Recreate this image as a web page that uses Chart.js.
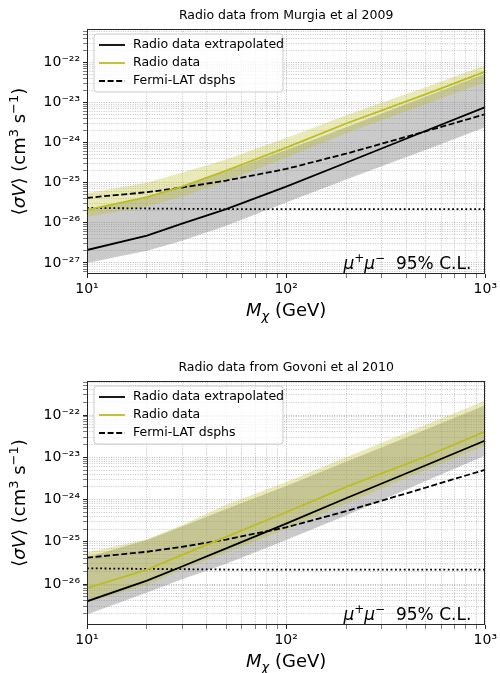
<!DOCTYPE html>
<html><head><meta charset="utf-8">
<script src="https://cdn.jsdelivr.net/npm/chart.js@4.4.1/dist/chart.umd.min.js"></script>
<style>
html,body{margin:0;padding:0;background:#fff;}
#wrap{position:relative;width:500px;height:673px;overflow:hidden;}
canvas{position:absolute;left:0;}
</style></head><body>
<div id="wrap">
<canvas id="c1" width="500" height="337" style="top:0px"></canvas>
<canvas id="c2" width="500" height="336" style="top:337px"></canvas>
</div>
<script>
// ---------- data ----------
const masses = [10, 20, 30, 50, 100, 200, 500, 1000];           // M_chi (GeV)
const xTickValues = [10, 100, 1000];

// Fermi-LAT dSphs limit (same in both panels)
const fermiLAT = [4.2e-26, 5.8e-26, 7.6e-26, 1.13e-25, 2.2e-25, 5.3e-25, 1.9e-24, 5.1e-24];
// thermal relic cross section (dotted)
const thermalRelic = [2.35e-26, 2.28e-26, 2.24e-26, 2.2e-26, 2.2e-26, 2.2e-26, 2.2e-26, 2.2e-26];

// Top panel: Murgia et al 2009
const murgiaExtrap   = [2.1e-27, 4.8e-27, 9.5e-27, 2.2e-26, 8.0e-26, 3.15e-25, 1.95e-24, 7.7e-24];
const murgiaExtrapUp = [2.05e-26, 4.5e-26, 8.3e-26, 1.9e-25, 6.5e-25, 2.4e-24, 1.4e-23, 5.2e-23];
const murgiaExtrapLo = [1.0e-27, 2.0e-27, 3.6e-27, 8.5e-27, 3.2e-26, 1.2e-25, 6.5e-25, 2.4e-24];
const murgiaRadio    = [2.1e-26, 4.4e-26, 8.0e-26, 2.0e-25, 7.5e-25, 3.0e-24, 1.6e-23, 5.9e-23];
const murgiaRadioUp  = [5.5e-26, 1.0e-25, 1.8e-25, 3.8e-25, 1.3e-24, 4.8e-24, 2.4e-23, 8.5e-23];
const murgiaRadioLo  = [1.4e-26, 2.6e-26, 4.5e-26, 1.1e-25, 4.2e-25, 1.7e-24, 9.0e-24, 3.2e-23];

// Bottom panel: Govoni et al 2010
const govoniExtrap   = [3.9e-27, 1.2e-26, 2.6e-26, 7.0e-26, 2.7e-25, 1.07e-24, 6.4e-24, 2.5e-23];
const govoniExtrapUp = [4.3e-26, 1.1e-25, 2.3e-25, 6.0e-25, 2.1e-24, 7.8e-24, 4.5e-23, 1.7e-22];
const govoniExtrapLo = [1.9e-27, 6.3e-27, 1.3e-26, 3.0e-26, 1.1e-25, 4.2e-25, 2.7e-24, 1.1e-23];
const govoniRadio    = [8.0e-27, 2.2e-26, 4.9e-26, 1.3e-25, 5.0e-25, 2.0e-24, 1.03e-23, 4.1e-23];
const govoniRadioUp  = [5.6e-26, 1.15e-25, 2.5e-25, 7.5e-25, 2.6e-24, 1.0e-23, 5.8e-23, 2.2e-22];
const govoniRadioLo  = [3.7e-27, 9.5e-27, 2.2e-26, 5.5e-26, 2.0e-25, 8.0e-25, 5.0e-24, 1.9e-23];

const seriesLabels = ['Radio data extrapolated', 'Radio data', 'Fermi-LAT dsphs'];
const panelTitles = ['Radio data from Murgia et al 2009', 'Radio data from Govoni et al 2010'];
const annotationText = ['95% C.L.'];

// ---------- helpers ----------
const FF = '"DejaVu Sans", "Liberation Sans", sans-serif';
Chart.defaults.font.family = FF;
const SUP = {'0':'⁰','1':'¹','2':'²','3':'³','4':'⁴','5':'⁵','6':'⁶','7':'⁷','8':'⁸','9':'⁹','-':'⁻'};
function isPow10(v){ const e = Math.log10(v); return Math.abs(e - Math.round(e)) < 1e-6; }
function powLabel(v){ const e = Math.round(Math.log10(v)); return '10' + String(e).split('').map(c => SUP[c]).join(''); }
function buildLogTicks(scale){
  const min = scale.min, max = scale.max, t = [];
  for (let e = Math.floor(Math.log10(min)); e <= Math.ceil(Math.log10(max)); e++) {
    for (let m = 1; m <= 9; m++) {
      const v = m * Math.pow(10, e);
      if (v >= min * 0.99999 && v <= max * 1.00001) t.push({value: v, major: m === 1});
    }
  }
  scale.ticks = t;
}
const pts = (arr) => masses.map((m, i) => ({x: m, y: arr[i]}));

function font(s){ return (s.style || 'normal') + ' ' + s.size + 'px ' + FF; }
function drawRich(ctx, segs, x, y, align){
  let w = 0;
  segs.forEach(s => { ctx.font = font(s); s.w = ctx.measureText(s.t).width; w += s.w; });
  let cx = align === 'center' ? x - w / 2 : (align === 'right' ? x - w : x);
  ctx.textAlign = 'left'; ctx.textBaseline = 'alphabetic';
  segs.forEach(s => { ctx.font = font(s); ctx.fillText(s.t, cx, y + (s.dy || 0)); cx += s.w; });
}

const decor = {
  id: 'decor',
  afterDraw(chart){
    const ctx = chart.ctx, a = chart.chartArea;
    ctx.save();
    // frame
    ctx.setLineDash([]);
    ctx.strokeStyle = '#262626'; ctx.lineWidth = 1;
    ctx.strokeRect(Math.round(a.left) + 0.5, Math.round(a.top) + 0.5, Math.round(a.right - a.left) - 1, Math.round(a.bottom - a.top) - 1);
    // legend
    const lx = a.left + 7, ly = a.top + 5, lw = 189, lh = 58, r = 3;
    ctx.beginPath();
    ctx.moveTo(lx + r, ly); ctx.lineTo(lx + lw - r, ly); ctx.arcTo(lx + lw, ly, lx + lw, ly + r, r);
    ctx.lineTo(lx + lw, ly + lh - r); ctx.arcTo(lx + lw, ly + lh, lx + lw - r, ly + lh, r);
    ctx.lineTo(lx + r, ly + lh); ctx.arcTo(lx, ly + lh, lx, ly + lh - r, r);
    ctx.lineTo(lx, ly + r); ctx.arcTo(lx, ly, lx + r, ly, r); ctx.closePath();
    ctx.fillStyle = 'rgba(255,255,255,0.8)'; ctx.fill();
    ctx.strokeStyle = '#cccccc'; ctx.lineWidth = 1; ctx.stroke();
    [7, 6, 5].forEach((di, k) => {
      const ds = chart.data.datasets[di];
      const y = Math.round(a.top + 16 + 18 * k);
      ctx.strokeStyle = ds.borderColor; ctx.lineWidth = ds.borderWidth; ctx.setLineDash(ds.borderDash || []);
      ctx.beginPath(); ctx.moveTo(lx + 5, y); ctx.lineTo(lx + 31, y); ctx.stroke();
      ctx.setLineDash([]);
      ctx.fillStyle = '#000'; ctx.font = '12.5px ' + FF; ctx.textAlign = 'left'; ctx.textBaseline = 'middle';
      ctx.fillText(ds.label, lx + 39, y);
    });
    ctx.fillStyle = '#000';
    // annotation
    drawRich(ctx, [
      {t: 'μ', size: 17, style: 'italic'}, {t: '+', size: 12, dy: -7},
      {t: 'μ', size: 17, style: 'italic'}, {t: '−', size: 12, dy: -7},
      {t: '  ' + annotationText[0], size: 17}
    ], a.right - 14, a.bottom - 5, 'right');
    // x title
    drawRich(ctx, [
      {t: 'M', size: 18, style: 'italic'}, {t: 'χ', size: 13, style: 'italic', dy: 4},
      {t: ' (GeV)', size: 18}
    ], (a.left + a.right) / 2, a.bottom + 42, 'center');
    // y title
    ctx.translate(19, (a.top + a.bottom) / 2);
    ctx.rotate(-Math.PI / 2);
    drawRich(ctx, [
      {t: '⟨', size: 18}, {t: 'σV', size: 18, style: 'italic'}, {t: '⟩ (cm', size: 18},
      {t: '3', size: 13, dy: -7}, {t: ' s', size: 18}, {t: '−1', size: 13, dy: -7}, {t: ')', size: 18}
    ], 0, 6, 'center');
    ctx.restore();
  }
};

function makeChart(id, title, titlePad, xAxisH, ymin, ymax, ext, extUp, extLo, rad, radUp, radLo){
  const gridColor = (c) => (c.tick && c.tick.major) ? '#a8a8a8' : '#b8b8b8';
  const tickW = (c) => (c.tick && c.tick.major) ? 1 : 0.6;
  return new Chart(document.getElementById(id), {
    type: 'line',
    data: {
      datasets: [
        {label: 'extrap band up', data: pts(extUp), fill: '+1', backgroundColor: 'rgba(128,128,128,0.42)', borderWidth: 0, borderColor: 'rgba(0,0,0,0)', pointRadius: 0, order: 10},
        {label: 'extrap band low', data: pts(extLo), fill: false, borderWidth: 0, borderColor: 'rgba(0,0,0,0)', pointRadius: 0, order: 10},
        {label: 'radio band up', data: pts(radUp), fill: '+1', backgroundColor: 'rgba(188,189,34,0.32)', borderWidth: 0, borderColor: 'rgba(0,0,0,0)', pointRadius: 0, order: 9},
        {label: 'radio band low', data: pts(radLo), fill: false, borderWidth: 0, borderColor: 'rgba(0,0,0,0)', pointRadius: 0, order: 9},
        {label: 'thermal relic', data: pts(thermalRelic), fill: false, borderColor: '#000', borderWidth: 1.8, borderDash: [1.8, 2.6], pointRadius: 0, order: 5},
        {label: seriesLabels[2], data: pts(fermiLAT), fill: false, borderColor: '#000', borderWidth: 1.8, borderDash: [6, 2.6], pointRadius: 0, order: 4},
        {label: seriesLabels[1], data: pts(rad), fill: false, borderColor: '#bcbd22', borderWidth: 1.8, pointRadius: 0, order: 3},
        {label: seriesLabels[0], data: pts(ext), fill: false, borderColor: '#000', borderWidth: 1.8, pointRadius: 0, order: 2}
      ]
    },
    options: {
      responsive: false, animation: false, devicePixelRatio: 1,
      layout: {padding: {top: 0, right: 13, bottom: 0, left: 0}},
      elements: {line: {tension: 0}},
      plugins: {
        legend: {display: false}, tooltip: {enabled: false},
        title: {display: true, text: title, fullSize: false, color: '#000',
                font: {family: FF, size: 12.5, weight: 'normal', lineHeight: 1.2},
                padding: {top: titlePad[0], bottom: titlePad[1]}}
      },
      scales: {
        x: {
          type: 'logarithmic', min: 10, max: 1000,
          afterBuildTicks: buildLogTicks,
          afterFit: (s) => { s.height = xAxisH; },
          grid: {color: gridColor, lineWidth: 0.8, tickLength: 4, tickColor: '#222', tickWidth: tickW},
          border: {display: false, dash: [1, 1.4]},
          ticks: {autoSkip: false, maxRotation: 0, color: '#000', padding: 3, font: {size: 14},
                  callback: (v) => xTickValues.indexOf(v) >= 0 || isPow10(v) ? powLabel(v) : ''}
        },
        y: {
          type: 'logarithmic', min: ymin, max: ymax,
          afterBuildTicks: buildLogTicks,
          afterFit: (s) => { s.width = 87; },
          grid: {color: gridColor, lineWidth: 0.8, tickLength: 4, tickColor: '#222', tickWidth: tickW},
          border: {display: false, dash: [1, 1.4]},
          ticks: {autoSkip: false, color: '#000', padding: 3, font: {size: 14},
                  callback: (v) => isPow10(v) ? powLabel(v) : ''}
        }
      }
    },
    plugins: [decor]
  });
}

makeChart('c1', panelTitles[0], [8.7, 5.3], 63, 5.3e-28, 6.8e-22,
  murgiaExtrap, murgiaExtrapUp, murgiaExtrapLo, murgiaRadio, murgiaRadioUp, murgiaRadioLo);
makeChart('c2', panelTitles[1], [23.5, 5.5], 48, 1.07e-27, 6.4e-22,
  govoniExtrap, govoniExtrapUp, govoniExtrapLo, govoniRadio, govoniRadioUp, govoniRadioLo);
</script>
</body></html>
